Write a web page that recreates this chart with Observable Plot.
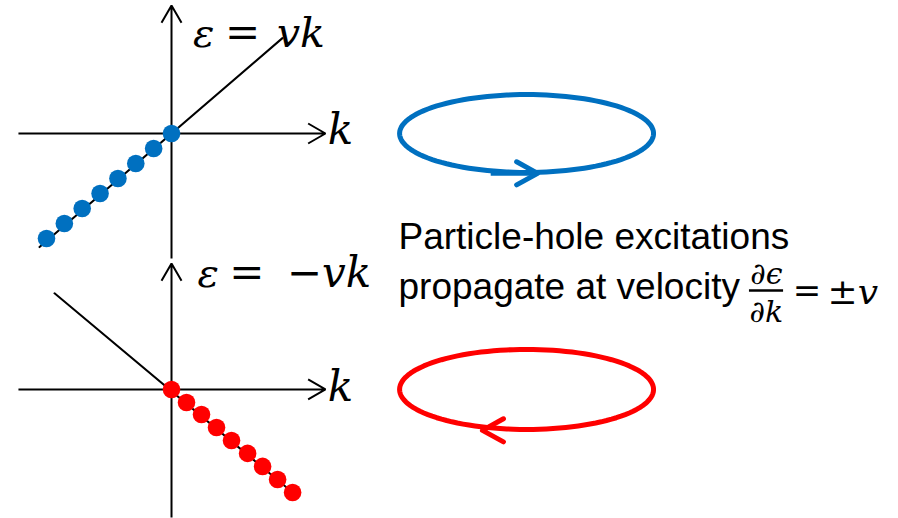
<!DOCTYPE html>
<html><head><meta charset="utf-8">
<script src="https://cdn.jsdelivr.net/npm/d3@7"></script>
<script src="https://cdn.jsdelivr.net/npm/@observablehq/plot@0.6"></script>
<style>html,body{margin:0;padding:0;background:#fff}#chart svg{display:block}</style>
</head><body><div id="chart"></div>
<script>
// ---- data (k, ε in units of the dot spacing) ----
// right movers: filled states on ε = v k
const rightK = [-7, -6, -5, -4, -3, -2, -1, 0];
const rightE = [-5.88, -5.04, -4.20, -3.36, -2.52, -1.68, -0.84, 0];
// left movers: filled states on ε = -v k
const leftK = [0, 0.84, 1.68, 2.52, 3.36, 4.26, 5.10, 5.94, 6.78];
const leftE = [0, -0.73, -1.40, -2.13, -2.86, -3.58, -4.31, -5.04, -5.77];
// dispersion line end points
const rightLineK = [-7.39, 6.21], rightLineE = [-6.36, 5.34];
const leftLineK = [-6.55, 6.78], leftLineE = [5.38, -5.77];
// texts
const mathLabels = ["ε", "=", "vk", "−vk", "k"];
const textLines = ["Particle-hole excitations", "propagate at velocity"];
const fracParts = ["∂ϵ", "∂k", "=", "±v"];

// ---- layout (data units) ----
const S = -14.33;               // vertical offset of the lower (left-mover) diagram
const axisK = [-8.57, 8.62];
const axisTop = [-7.0, 7.17], axisBot = [-7.17, 7.05];
const ring = {cx: 19.88, rx: 7.11, ryTop: 2.18, ryBot: 2.24};
const BLUE = "#0070C0", RED = "#FF0000";
const MATH = "'DejaVu Serif', serif", SANS = "'Liberation Sans', Arial, sans-serif";

const pts = (K, E, dy = 0) => K.map((k, i) => ({k, e: E[i] + dy}));
const ellipse = (cx, cy, rx, ry) => d3.range(0, 121).map(i => {
  const t = i / 120 * 2 * Math.PI;
  return {k: cx + rx * Math.cos(t), e: cy + ry * Math.sin(t)};
});
const chevron = {draw(ctx, size) {
  const r = Math.sqrt(size / Math.PI);
  ctx.moveTo(-2 * r, -1.1 * r); ctx.lineTo(0, 0); ctx.lineTo(-2 * r, 1.1 * r);
}};
const txt = (s, x, y, o = {}) => Plot.text([s], {x: () => x, y: () => y, text: d => d,
  lineAnchor: "bottom", textAnchor: "start", fill: "black", ...o});
const mathIt = {fontFamily: MATH, fontStyle: "italic"};
const mathUp = {fontFamily: MATH, fontStyle: "normal"};

const axes = [
  {x1: axisK[0], y1: 0, x2: axisK[1], y2: 0},
  {x1: 0, y1: axisTop[0], x2: 0, y2: axisTop[1]},
  {x1: axisK[0], y1: S, x2: axisK[1], y2: S},
  {x1: 0, y1: S + axisBot[0], x2: 0, y2: S + axisBot[1]}
];

const chart = Plot.plot({
  width: 898, height: 518, margin: 0,
  x: {domain: [-9.575, 40.705], axis: null},
  y: {domain: [-21.556, 7.447], axis: null},
  style: {background: "white"},
  marks: [
    Plot.arrow(axes, {x1: "x1", y1: "y1", x2: "x2", y2: "y2", stroke: "black",
      strokeWidth: 2, headLength: 15, headAngle: 60, strokeLinecap: "butt"}),
    Plot.line(pts(rightLineK, rightLineE), {x: "k", y: "e", stroke: "black", strokeWidth: 2}),
    Plot.line(pts(leftLineK, leftLineE, S), {x: "k", y: "e", stroke: "black", strokeWidth: 2}),
    Plot.dot(pts(rightK, rightE), {x: "k", y: "e", r: 8.8, fill: BLUE}),
    Plot.dot(pts(leftK, leftE, S), {x: "k", y: "e", r: 8.8, fill: RED}),
    // circulating rings
    Plot.line(ellipse(ring.cx, 0, ring.rx, ring.ryTop), {x: "k", y: "e", stroke: BLUE, strokeWidth: 5}),
    Plot.line(ellipse(ring.cx, S, ring.rx, ring.ryBot), {x: "k", y: "e", stroke: RED, strokeWidth: 5}),
    Plot.ruleY([-ring.ryTop - 0.05], {x1: 17.9, x2: 20.5, stroke: BLUE, strokeWidth: 5}),
    Plot.dot([0], {x: () => 20.5, y: () => -ring.ryTop - 0.05, symbol: chevron, r: 10.5,
      fill: "none", stroke: BLUE, strokeWidth: 5, strokeLinecap: "round", strokeLinejoin: "round"}),
    Plot.dot([0], {x: () => 17.41, y: () => S - ring.ryBot - 0.05, symbol: chevron, r: 10.5, rotate: 180,
      fill: "none", stroke: RED, strokeWidth: 5, strokeLinecap: "round", strokeLinejoin: "round"}),
    // math labels
    txt(mathLabels[0], 1.2, 4.82, {...mathIt, fontSize: 40}),
    txt(mathLabels[1], 3.98, 4.82, {...mathUp, fontSize: 42, textAnchor: "middle"}),
    txt(mathLabels[2], 5.9, 4.82, {...mathIt, fontSize: 41}),
    txt(mathLabels[4], 8.75, -0.56, {...mathIt, fontSize: 42}),
    txt(mathLabels[0], 1.45, -8.62, {...mathIt, fontSize: 40}),
    txt(mathLabels[1], 4.22, -8.62, {...mathUp, fontSize: 42, textAnchor: "middle"}),
    txt(mathLabels[3], 6.45, -8.62, {...mathIt, fontSize: 42}),
    txt(mathLabels[4], 8.75, S - 0.62, {...mathIt, fontSize: 42}),
    // explanation
    txt(textLines[0], 12.71, -6.44, {fontFamily: SANS, fontSize: 37}),
    txt(textLines[1], 12.71, -9.24, {fontFamily: SANS, fontSize: 37}),
    txt(fracParts[0], 33.31, -8.40, {...mathIt, fontSize: 30, textAnchor: "middle"}),
    Plot.ruleY([-8.79], {x1: 32.36, x2: 34.27, stroke: "black", strokeWidth: 2.5}),
    txt(fracParts[1], 33.31, -10.53, {...mathIt, fontSize: 30, textAnchor: "middle"}),
    txt(fracParts[2], 35.58, -9.46, {...mathUp, fontSize: 34, textAnchor: "middle"}),
    txt(fracParts[3], 36.73, -9.52, {...mathIt, fontSize: 36})
  ]
});
document.getElementById("chart").append(chart);
</script></body></html>
